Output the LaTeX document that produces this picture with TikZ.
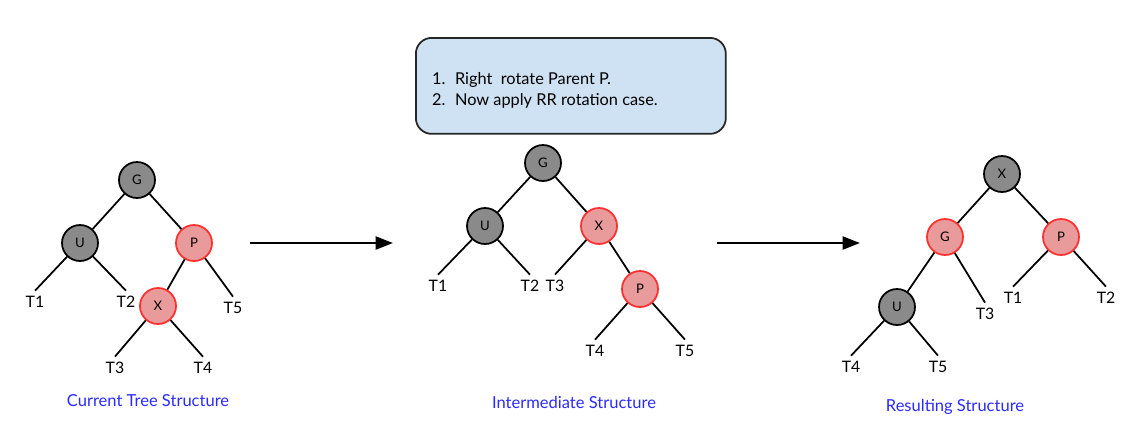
\documentclass[tikz,border=0pt]{standalone}
\usepackage{fontspec}
\setmainfont{Lato}
\usepackage{xcolor}
\usetikzlibrary{arrows.meta,positioning}
\definecolor{nodegray}{HTML}{8A8A8A}
\definecolor{nodered}{HTML}{E99A9A}
\definecolor{rimred}{HTML}{FF3030}
\definecolor{notefill}{HTML}{CFE2F3}
\definecolor{capblue}{HTML}{2A2AFF}
\begin{document}
\begin{tikzpicture}[
  x=0.02cm,y=-0.02cm,
  blk/.style={circle,draw=black,fill=nodegray,line width=1pt,minimum size=0.72cm,inner sep=0pt,font=\fontsize{7.5}{9}\selectfont},
  rd/.style={circle,draw=rimred,fill=nodered,line width=1pt,minimum size=0.72cm,inner sep=0pt,font=\fontsize{7.5}{9}\selectfont},
  sub/.style={inner sep=3pt,font=\fontsize{9}{10}\selectfont},
  treecap/.style={text=capblue,font=\fontsize{9.4}{11}\selectfont},
  edge/.style={line width=1pt},
  step arrow/.style={line width=1.5pt,-{Triangle[length=3.5mm,width=2.6mm]}}
]
\useasboundingbox (0,0) rectangle (1134,437);
% current tree
\node[blk] (g1) at (137,180) {G};
\node[blk] (u1) at (80,243) {U};
\node[rd] (p1) at (194,243) {P};
\node[rd] (x1) at (158,306) {X};
\node[sub] (a1) at (35,302) {T1};
\node[sub] (a2) at (126,302) {T2};
\node[sub] (a5) at (233,308) {T5};
\node[sub] (a3) at (115,368) {T3};
\node[sub] (a4) at (203,368) {T4};
\draw[edge] (g1) -- (u1);
\draw[edge] (g1) -- (p1);
\draw[edge] (u1) -- (a1.north);
\draw[edge] (u1) -- (a2.north);
\draw[edge] (p1) -- (x1);
\draw[edge] (p1) -- (a5.north);
\draw[edge] (x1) -- (a3.north);
\draw[edge] (x1) -- (a4.north);
\node[treecap] (c1) at (148,401) {Current Tree Structure};
% intermediate tree
\node[blk] (g2) at (543,163) {G};
\node[blk] (u2) at (485,226) {U};
\node[rd] (x2) at (599,226) {X};
\node[rd] (p2) at (640,289) {P};
\node[sub] (b1) at (438,286) {T1};
\node[sub] (b2) at (530,286) {T2};
\node[sub] (b3) at (555,286) {T3};
\node[sub] (b4) at (595,351) {T4};
\node[sub] (b5) at (685,351) {T5};
\draw[edge] (g2) -- (u2);
\draw[edge] (g2) -- (x2);
\draw[edge] (u2) -- (b1.north);
\draw[edge] (u2) -- (b2.north);
\draw[edge] (x2) -- (b3.north);
\draw[edge] (x2) -- (p2);
\draw[edge] (p2) -- (b4.north);
\draw[edge] (p2) -- (b5.north);
\node[treecap] (c2) at (574,402) {Intermediate Structure};
% note box
\node[draw=black!85,line width=1pt,fill=notefill,rounded corners=9pt,minimum width=6.2cm,minimum height=1.92cm,anchor=north west] (note) at (415,37) {};
\node[anchor=north west,align=left,font=\fontsize{9.3}{12}\selectfont] (steps) at (426,66)
  {\makebox[13pt][l]{1.}Right\ \ rotate Parent P.\\\makebox[13pt][l]{2.}Now apply RR rotation case.};
% resulting tree
\node[blk] (x3) at (1002,174) {X};
\node[rd] (g3) at (945,237) {G};
\node[rd] (p3) at (1061,237) {P};
\node[blk] (u3) at (897,307) {U};
\node[sub] (r3) at (985,314) {T3};
\node[sub] (r1) at (1013,298) {T1};
\node[sub] (r2) at (1106,298) {T2};
\node[sub] (r4) at (851,367) {T4};
\node[sub] (r5) at (938,367) {T5};
\draw[edge] (x3) -- (g3);
\draw[edge] (x3) -- (p3);
\draw[edge] (g3) -- (u3);
\draw[edge] (g3) -- (r3.north);
\draw[edge] (p3) -- (r1.north);
\draw[edge] (p3) -- (r2.north);
\draw[edge] (u3) -- (r4.north);
\draw[edge] (u3) -- (r5.north);
\node[treecap] (c3) at (955,407) {Resulting Structure};
% steps between trees
\coordinate (s1) at (250,243);
\coordinate (e1) at (393,243);
\coordinate (s2) at (717,243);
\coordinate (e2) at (860,243);
\draw[step arrow] (s1) -- (e1);
\draw[step arrow] (s2) -- (e2);
\end{tikzpicture}
\end{document}
